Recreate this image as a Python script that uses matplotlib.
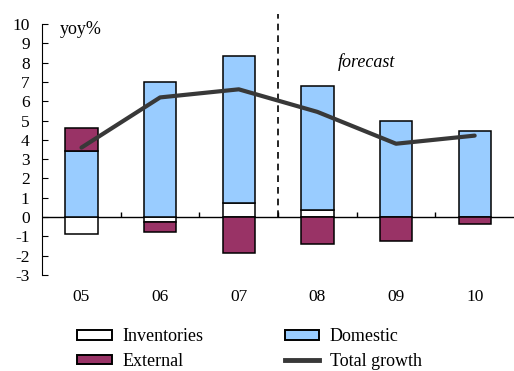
"""
Contributions to GDP growth, yoy%, with forecast period marked.
"""

import matplotlib.pyplot as plt
import numpy as np
from matplotlib.lines import Line2D
from matplotlib.patches import Patch

years = ["05", "06", "07", "08", "09", "10"]
inventories = [-0.87, -0.27, 0.71, 0.36, 0.0, 0.0]
domestic = [3.43, 7.0, 7.63, 6.44, 5.0, 4.48]
external = [1.2, -0.53, -1.84, -1.41, -1.23, -0.35]
total_growth = [3.6, 6.2, 6.62, 5.45, 3.8, 4.22]
forecast_start = 2.5

BLUE = "#99ccff"
MAROON = "#993366"
LINE = "#383838"

plt.rcParams["font.family"] = ["Liberation Serif", "DejaVu Serif"]
plt.rcParams["axes.unicode_minus"] = False

fig = plt.figure(figsize=(5.14, 3.71), dpi=100)
ax = fig.add_axes([0.082, 0.259, 0.918, 0.676])

x = np.arange(len(years))
width = 0.41
pos_base = np.zeros(len(years))
neg_base = np.zeros(len(years))

# stack positives upward and negatives downward, in the same order
for vals, color in [(inventories, "white"), (domestic, BLUE), (external, MAROON)]:
    vals = np.array(vals)
    base = np.where(vals >= 0, pos_base, neg_base)
    ax.bar(x, vals, width, bottom=base, color=color, edgecolor="black",
           linewidth=1.1, zorder=2)
    pos_base += np.where(vals > 0, vals, 0)
    neg_base += np.where(vals < 0, vals, 0)

ax.plot(x, total_growth, color=LINE, linewidth=3, solid_capstyle="round", zorder=3)

ax.axhline(0, color="black", linewidth=1, zorder=1)
ax.vlines(x[:-1] + 0.5, 0, 0.25, color="black", linewidth=1)
ax.plot([forecast_start, forecast_start], [0, 10.5], color="black",
        linestyle=(0, (4, 3)), linewidth=1.2, clip_on=False)

ax.set_xlim(-0.5, len(years) - 0.5)
ax.set_ylim(-3, 10)
ax.set_yticks(range(-3, 11))
ax.set_xticks(x)
ax.set_xticklabels(years)
ax.tick_params(axis="x", length=0, pad=10, labelsize=12.5)
ax.tick_params(axis="y", direction="in", length=4, pad=9, labelsize=12.5)

for side in ["top", "right", "bottom"]:
    ax.spines[side].set_visible(False)

ax.text(-0.27, 9.7, "yoy%", fontsize=13, va="center")
ax.text(3.63, 8.05, "forecast", fontsize=13, style="italic", ha="center", va="center")

handles = [
    Patch(facecolor="white", edgecolor="black", linewidth=1.4, label="Inventories"),
    Patch(facecolor=MAROON, edgecolor="black", linewidth=1.4, label="External"),
    Patch(facecolor=BLUE, edgecolor="black", linewidth=1.4, label="Domestic"),
    Line2D([0], [0], color=LINE, linewidth=3.5, label="Total growth"),
]
fig.legend(handles=handles, ncol=2, loc="lower left", bbox_to_anchor=(0.119, -0.041),
           frameon=False, fontsize=13, handlelength=1.9, handleheight=0.45,
           handletextpad=0.6, columnspacing=4.5, labelspacing=0.42)

fig.savefig("out.png", dpi=100)
